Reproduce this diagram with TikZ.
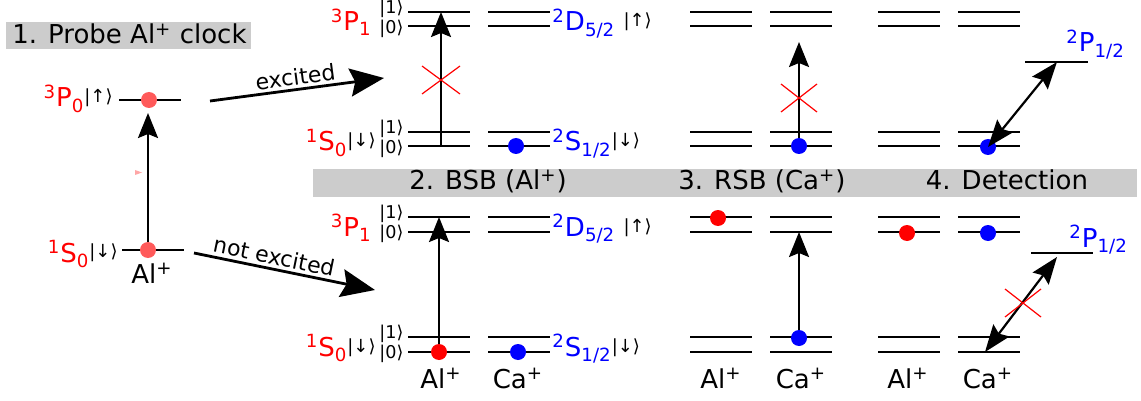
\documentclass[tikz,border=0pt]{standalone}
\usepackage{fontspec}
\setmainfont{DejaVu Sans}
\usetikzlibrary{arrows.meta,positioning}
\definecolor{AlRed}{HTML}{FF0000}
\definecolor{CaBlue}{HTML}{0000FF}
\definecolor{Probe}{HTML}{FF5A5A}
\definecolor{Band}{HTML}{CCCCCC}
\newcommand{\kt}[1]{{\fontsize{9}{9}\selectfont|#1⟩}}
\newcommand{\term}[3]{\textsuperscript{#1}#2\textsubscript{#3}}

\begin{document}
\begin{tikzpicture}[x=0.5pt,y=-0.5pt,font=\fontsize{13}{15}\selectfont,>=Stealth,
  lvl/.style={line width=1.3pt},
  ion/.style={circle,fill=#1,inner sep=0pt,minimum size=8pt},
  pulse/.style={line width=1.1pt,-{Stealth[length=12.5pt,width=10pt,inset=2pt]}},
  branch/.style={line width=1.4pt,-{Stealth[length=17pt,width=14pt,inset=2.5pt]}},
  detect/.style={line width=1.1pt,{Stealth[length=13.5pt,width=10pt,inset=2pt]}-{Stealth[length=13.5pt,width=10pt,inset=2pt]}},
  nope/.style={AlRed,line width=0.6pt},
  kets/.style={anchor=west,align=left,inner sep=0pt,font=\fontsize{8.8}{7}\selectfont},
  note/.style={font=\fontsize{11}{13}\selectfont,sloped,above,inner sep=1.5pt}]
\useasboundingbox (0,0) rectangle (1141,401);

% headers
\fill[Band] (6,22) rectangle (251,49);
\node[anchor=base west,inner sep=0pt] (probe) at (12,44) {1. Probe Al\textsuperscript{+} clock};
\fill[Band] (313,169) rectangle (1137,197);
\node[anchor=base,inner sep=0pt] (bsb) at (488,190) {2. BSB (Al\textsuperscript{+})};
\node[anchor=base,inner sep=0pt] (rsb) at (762,190) {3. RSB (Ca\textsuperscript{+})};
\node[anchor=base,inner sep=0pt] (det) at (1007,190) {4. Detection};

% step 1: clock probe
\draw[lvl] (119,100) -- (181,100);
\draw[lvl] (122,250) -- (184,250);
\fill[AlRed!35] (135,170) -- (142,172.5) -- (135,175) -- cycle;
\coordinate (uptip) at (148,113);
\draw[pulse] (148,250) coordinate (dnc) -- (uptip);
\node[ion=Probe] (up) at (149,100) {};
\node[ion=Probe] (dn) at (dnc) {};
\node[anchor=base east,inner sep=0pt] (p0) at (113,107) {\textcolor{AlRed}{\term{3}{P}{0}}\raisebox{2pt}{\kt{↑}}};
\node[anchor=base east,inner sep=0pt] (s0) at (118,262) {\textcolor{AlRed}{\term{1}{S}{0}}\raisebox{2pt}{\kt{↓}}};
\node[anchor=base,inner sep=0pt] (al1) at (152,283) {Al\textsuperscript{+}};

\coordinate (exA) at (210,101);
\coordinate (exB) at (384,78);
\draw[branch] (exA) -- node[note] (exc) {excited} (exB);
\coordinate (noA) at (194,253);
\coordinate (noB) at (375,290);
\draw[branch] (noA) -- node[note,pos=0.43] (noexc) {not excited} (noB);

% level pairs, steps 2-4
\foreach \x in {408,488,690,770,878,958}
  \foreach \y in {12,26,132,146,217,232,337,352}
    \draw[lvl] (\x,\y) -- ++(62,0);
\draw[lvl] (1025,62) -- (1088,62);
\draw[lvl] (1031,253) -- (1093,253);

% level names of step 2
\foreach \dy/\r in {0/t,205/b}{
  \node[anchor=base east,inner sep=0pt,AlRed] (pone\r) at (372,31+\dy) {\term{3}{P}{1}};
  \node[kets] (pk\r) at (379,19+\dy) {|1⟩\\|0⟩};
  \node[anchor=base east,inner sep=0pt] (sz\r) at (376,151+\dy) {\textcolor{AlRed}{\term{1}{S}{0}}\raisebox{2pt}{\kt{↓}}};
  \node[kets] (sk\r) at (379,139+\dy) {|1⟩\\|0⟩};
  \node[anchor=base west,inner sep=0pt] (dfive\r) at (552,31+\dy) {\textcolor{CaBlue}{\term{2}{D}{5/2}} \raisebox{2pt}{\kt{↑}}};
  \node[anchor=base west,inner sep=0pt] (shalf\r) at (552,151+\dy) {\textcolor{CaBlue}{\term{2}{S}{1/2}}\raisebox{2pt}{\kt{↓}}};
}
\node[anchor=base west,inner sep=0pt,CaBlue] (phalft) at (1066,52) {\term{2}{P}{1/2}};
\node[anchor=base west,inner sep=0pt,CaBlue] (phalfb) at (1069,247) {\term{2}{P}{1/2}};

% step 2: BSB on Al+
\coordinate (s2t) at (441,146);
\coordinate (p2t) at (441,12);
\draw[pulse] (s2t) -- (p2t);
\draw[nope] (422,66) -- (460,94) (422,94) -- (460,66);
\node[ion=CaBlue] (ca2t) at (516,146) {};
\coordinate (p2b) at (439,217);
\draw[pulse] (439,352) coordinate (al2c) -- (p2b);
\node[ion=AlRed] (al2b) at (al2c) {};
\node[ion=CaBlue] (ca2b) at (518,352) {};

% step 3: RSB on Ca+
\coordinate (d3t) at (799,42);
\draw[pulse] (799,146) coordinate (ca3c) -- (d3t);
\draw[nope] (781,84) -- (817,112) (781,112) -- (817,84);
\node[ion=CaBlue] (ca3t) at (ca3c) {};
\node[ion=AlRed] (al3b) at (718,218) {};
\coordinate (d3b) at (799,232);
\draw[pulse] (799,338) coordinate (ca3d) -- (d3b);
\node[ion=CaBlue] (ca3b) at (ca3d) {};

% step 4: detection
\coordinate (p4t) at (1057,62);
\node[ion=CaBlue] (ca4t) at (988,147) {};
\draw[detect] (ca4t.center) -- (p4t);
\node[ion=AlRed] (al4b) at (907,233) {};
\node[ion=CaBlue] (ca4b) at (988,233) {};
\coordinate (p4b) at (1057,257);
\coordinate (g4b) at (985,352);
\draw[detect] (g4b) -- (p4b);
\draw[nope] (1005,289) -- (1041,317) (1005,317) -- (1041,289);

% ion names
\foreach \n/\x/\s in {al2/441/Al,ca2/518/Ca,al3/721/Al,ca3/801/Ca,al4/908/Al,ca4/988/Ca}
  \node[anchor=base,inner sep=0pt] (\n lab) at (\x,388) {\s\textsuperscript{+}};
\end{tikzpicture}
\end{document}
